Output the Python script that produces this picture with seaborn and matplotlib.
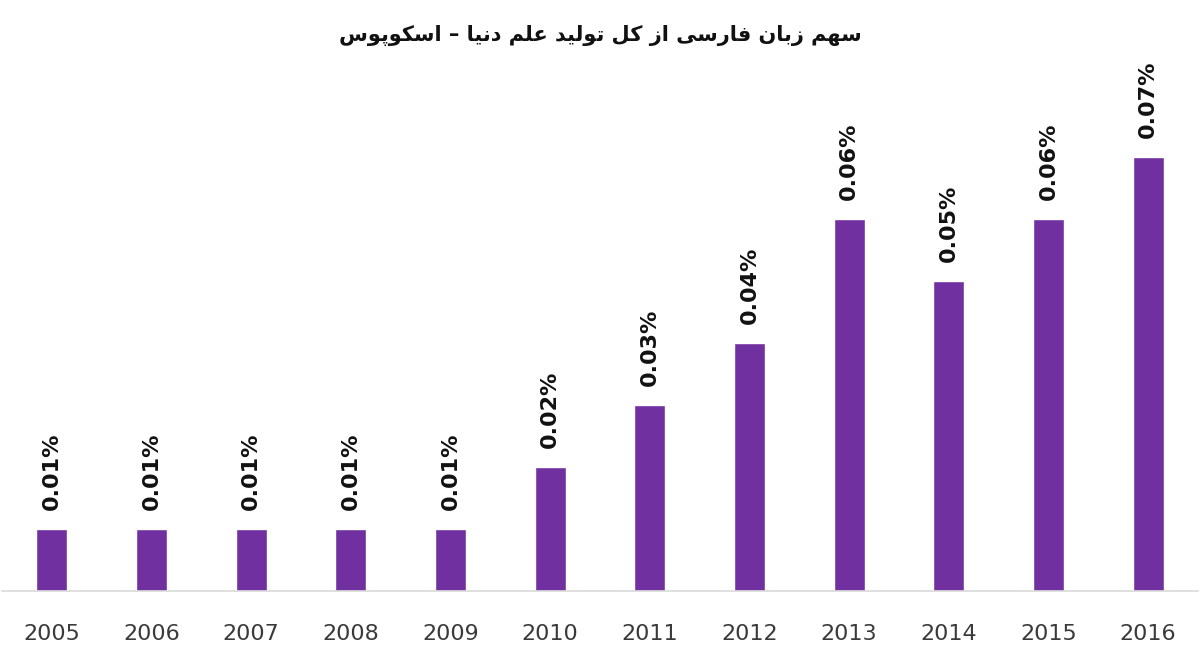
import matplotlib
matplotlib.use("Agg")
import matplotlib.pyplot as plt
import seaborn as sns
import pandas as pd

years = ["2005", "2006", "2007", "2008", "2009", "2010", "2011", "2012", "2013", "2014", "2015", "2016"]
share = [0.01, 0.01, 0.01, 0.01, 0.01, 0.02, 0.03, 0.04, 0.06, 0.05, 0.06, 0.07]
value_labels = ["0.01%", "0.01%", "0.01%", "0.01%", "0.01%", "0.02%", "0.03%", "0.04%", "0.06%", "0.05%", "0.06%", "0.07%"]

# Title: "سهم زبان فارسی از کل تولید علم دنیا – اسکوپوس" in Arabic presentation forms (logical order)
title_logical = (
    "\uFEB3\uFEEC\uFEE2" + " " +            # سهم
    "\uFEAF\uFE91\uFE8E\uFEE5" + " " +      # زبان
    "\uFED3\uFE8E\uFEAD\uFEB3\uFBFD" + " " +  # فارسی
    "\uFE8D\uFEAF" + " " +                  # از
    "\uFB90\uFEDE" + " " +                  # کل
    "\uFE97\uFEEE\uFEDF\uFBFF\uFEAA" + " " +  # تولید
    "\uFECB\uFEE0\uFEE2" + " " +            # علم
    "\uFEA9\uFEE7\uFBFF\uFE8E" + " \u2013 " +  # دنیا –
    "\uFE8D\uFEB3\uFB91\uFEEE\uFB58\uFEEE\uFEB1"  # اسکوپوس
)
title_text = title_logical[::-1]

df = pd.DataFrame({"year": years, "share": share})

sns.set_theme(style="white")
plt.rcParams["font.family"] = ["DejaVu Sans"]

fig = plt.figure(figsize=(12, 6.63), dpi=100)
ax = fig.add_axes([2 / 1200, 72 / 663, 1196 / 1200, 496 / 663])

sns.barplot(data=df, x="year", y="share", color="#7030A0", width=0.31,
            saturation=1, ax=ax)
ax.set_ylim(0, 0.08)
ax.set_xlim(-0.5, len(years) - 0.5)

ax.bar_label(ax.containers[0], labels=value_labels, padding=14, rotation=90,
             fontsize=16, fontweight="bold", color="#111111")

for s in ["top", "right", "left"]:
    ax.spines[s].set_visible(False)
ax.spines["bottom"].set_color("#d9d9d9")
ax.spines["bottom"].set_linewidth(1.2)
ax.set_yticks([])
ax.set_xlabel("")
ax.set_ylabel("")
ax.tick_params(axis="x", length=0, pad=24, labelsize=16, labelcolor="#3a3a3a")

fig.text(0.5, 1 - 35 / 663, title_text, ha="center", va="center",
         fontsize=15, fontweight="bold", color="#111111")

fig.savefig("out.png", dpi=100, facecolor="white")
